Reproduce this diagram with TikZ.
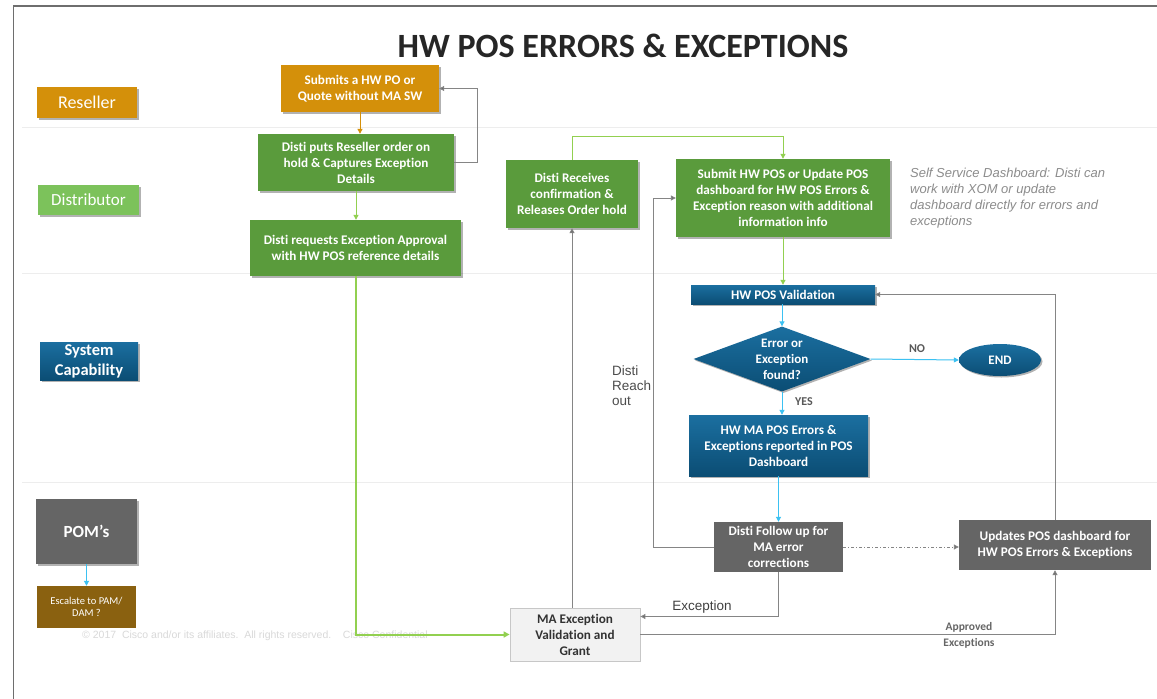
\documentclass[tikz,border=0pt]{standalone}
\usepackage{fontspec}
\setmainfont{Carlito}[Ligatures=NoCommon]
\newfontfamily\arialf{Liberation Sans}
\usetikzlibrary{arrows.meta,shapes.geometric,shadows,calc}
\definecolor{cOrange}{HTML}{D4900A}
\definecolor{cGreen}{HTML}{5A9B3C}
\definecolor{cLGreen}{HTML}{7CC25B}
\definecolor{cLine}{HTML}{92D050}
\definecolor{cBlueT}{HTML}{1B6FA0}
\definecolor{cBlueB}{HTML}{0B4D74}
\definecolor{cGray}{HTML}{656565}
\definecolor{cBrown}{HTML}{8A6110}
\definecolor{cCyan}{HTML}{3BC1F2}
\definecolor{cConn}{HTML}{858585}
\definecolor{cTip}{HTML}{6A6A6A}
\definecolor{cLane}{HTML}{EDEDED}
\definecolor{cBorder}{HTML}{6E6E6E}
\newcommand{\fsz}[2]{\fontsize{#1}{#2}\selectfont}
\begin{document}
\begin{tikzpicture}[x=1pt,y=-1pt,
  box/.style={rectangle, inner sep=1pt, align=center, text=white, font=\bfseries\fsz{13.2}{16}},
  shd/.style={drop shadow={shadow xshift=1.5pt,shadow yshift=-1.5pt,opacity=0.3,fill=black}},
  sz/.style 2 args={minimum width=#1pt, minimum height=#2pt},
  greenbox/.style={box, fill=cGreen, shd},
  bluebox/.style={box, top color=cBlueT, bottom color=cBlueB, shd},
  graybox/.style={box, fill=cGray},
  arr/.style={-{Triangle[length=5pt,width=5pt]}},
  gconn/.style={arr, draw=cConn, line width=0.9pt, -{Triangle[length=5pt,width=5pt,fill=cTip]}},
  lgconn/.style={arr, draw=cLine, line width=1pt},
  lgthick/.style={arr, draw=cLine, line width=2pt, -{Triangle[length=6pt,width=6pt]}},
  cyconn/.style={arr, draw=cCyan, line width=1pt},
  orconn/.style={arr, draw=cOrange, line width=1pt},
  lane/.style={draw=cLane, line width=1pt},
  lbl/.style={font=\bfseries\fsz{12}{14}, text=black!65},
]
\useasboundingbox (0,0) rectangle (1157,699);
\fill[white] (0,0) rectangle (1157,699);

% border
\draw[cBorder, line width=1.5pt] (13.5,699) -- (13.5,6) -- (1157,6);

% lane separators
\draw[lane] (22,127) -- (1157,127);
\draw[lane] (22,273) -- (1157,273);
\draw[lane] (22,482) -- (1157,482);

% title
\node[font=\bfseries\fsz{34}{40}, text=black!85] (title) at (623,46) {HW POS ERRORS \& EXCEPTIONS};

% lane labels
\node[box, fill=cOrange, shd, sz={100}{31}, font=\fsz{18}{20}] (resL) at (87,102.5) {Reseller};
\node[box, fill=cLGreen, shd, sz={101}{30}, font=\fsz{17}{20}] (disL) at (88.5,200) {Distributor};
\node[bluebox, sz={98}{38}, font=\bfseries\fsz{16.5}{20}] (sysL) at (89,361) {System\\Capability};
\node[box, fill=cGray, shd, sz={101}{65}, font=\bfseries\fsz{17}{20}] (pomL) at (86.5,531.5) {POM’s};
\node[box, fill=cBrown, sz={99}{42}, font=\fsz{10.5}{12.5}] (escL) at (86.5,607) {Escalate to PAM/\\DAM ?};
\draw[cyconn] (pomL.south) -- (escL.north);

% reseller / distributor nodes
\node[box, fill=cOrange, shd, sz={158}{47}] (submits) at (360,88.5) {Submits a HW PO or\\Quote without MA SW};
\node[greenbox, sz={196}{57}] (distiPuts) at (356,162.5) {Disti puts Reseller order on\\hold \& Captures Exception\\Details};
\node[greenbox, sz={211}{56}] (distiReq) at (355.5,248) {Disti requests Exception Approval\\with HW POS reference details};
\node[greenbox, sz={132}{68}] (distiRec) at (572,194) {Disti Receives\\confirmation \&\\Releases Order hold};
\node[greenbox, sz={214}{78}] (submitHW) at (783,198) {Submit HW POS or Update POS\\dashboard for HW POS Errors \&\\Exception reason with additional\\information info};
\node[anchor=north west, inner sep=0pt, align=left, font=\arialf\itshape\fsz{13}{16}, text=black!45] (note) at (910,167.5)
  {Self Service Dashboard: Disti can\\work with XOM or update\\dashboard directly for errors and\\exceptions};

% system capability nodes
\node[bluebox, sz={184}{19}, inner sep=0pt] (valid) at (783,294.5) {HW POS Validation};
\node[diamond, aspect=2.72, inner sep=0pt, sz={177}{65}, top color=cBlueT, bottom color=cBlueB, shd,
      text=white, align=center, font=\bfseries\fsz{13}{16}] (dec) at (782,359) {Error or\\Exception\\found?};
\node[ellipse, sz={82}{32}, top color=cBlueT, bottom color=cBlueB, shd, text=white, inner sep=0pt,
      font=\bfseries\fsz{13}{16}] (endN) at (1000,360) {END};
\node[bluebox, sz={179}{61}] (hwma) at (778.5,445.5) {HW MA POS Errors \&\\Exceptions reported in POS\\Dashboard};

% POM nodes
\node[graybox, sz={129}{50}] (follow) at (778.5,547) {Disti Follow up for\\MA error\\corrections};
\node[graybox, sz={192}{50}] (updates) at (1055,545) {Updates POS dashboard for\\HW POS Errors \& Exceptions};
\node[box, fill=black!5, draw=black!22, line width=0.8pt, text=black!80, sz={130}{53}] (maex) at (575,634.5) {MA Exception\\Validation and\\Grant};

% copyright
\node[anchor=west, inner sep=0pt, font=\arialf\fsz{10.5}{12}, text=black!15] (copy) at (82,636)
  {© 2017\ \ Cisco and/or its affiliates.\ \ All rights reserved.\ \ \ \ Cisco Confidential};

% connectors
\draw[orconn] (submits.south) -- (submits.south |- distiPuts.north);
\draw[gconn] (distiPuts.east) -- ++(23,0) |- (submits.east);
\draw[lgconn] (distiPuts.south) -- (distiPuts.south |- distiReq.north);
\draw[lgthick] (distiReq.south) |- (maex.west);
\draw[lgconn] (distiRec.north) -- ++(0,-23) -| (submitHW.north);
\draw[lgconn] (submitHW.south) -- (submitHW.south |- valid.north);
\draw[cyconn] (valid.south -| dec.north) -- (dec.north);
\draw[cyconn] (dec.east) -- (endN.west);
\draw[cyconn] (dec.south) -- (dec.south |- hwma.north);
\draw[cyconn] (hwma.south) -- (follow.north);
\draw[gconn] (follow.west) -- ++(-60,0) |- (submitHW.west);
\draw[gconn, dash pattern=on 3pt off 2pt on 1pt off 2pt] (follow.east) -- (follow.east -| updates.west);
\draw[gconn] (follow.south) |- ([yshift=18pt]maex.east);
\draw[gconn] (distiRec.south |- maex.north) -- (distiRec.south);
\draw[gconn] (maex.east) -| (updates.south);
\draw[gconn] (updates.north) |- (valid.east);

% labels
\node[lbl] (noL) at (917,349) {NO};
\node[lbl] (yesL) at (804,402) {YES};
\node[font=\arialf\fsz{13.5}{16}, text=black!75] (excL) at (702,607) {Exception};
\node[align=center, font=\bfseries\fsz{11.5}{16}, text=black!60] (apprL) at (969,635) {Approved\\Exceptions};
\node[anchor=north west, inner sep=0pt, align=left, font=\arialf\fsz{13.5}{15}, text=black!70] (reachL) at (612,366) {Disti\\Reach\\out};
\end{tikzpicture}
\end{document}
